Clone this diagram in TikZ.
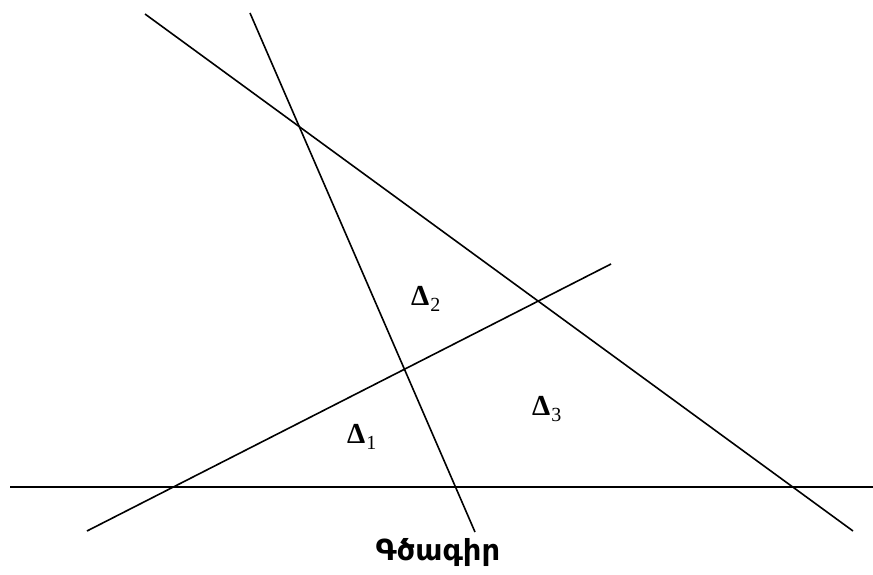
\documentclass[tikz,border=0pt]{standalone}
\usepackage{fontspec}
\setmainfont{Liberation Serif}
\newfontfamily\armfont{DejaVu Sans}
\begin{document}
\begin{tikzpicture}[x=1pt,y=-1pt,
  ln/.style={line width=1.6pt,black},
  dl/.style={anchor=base west,inner sep=0pt,font=\fontsize{29}{30}\selectfont}]
\useasboundingbox (0,0) rectangle (873,575);
\coordinate (h1) at (10,487);
\coordinate (h2) at (873,487);
\coordinate (a1) at (145,14);
\coordinate (a2) at (853,531);
\coordinate (b1) at (250,13);
\coordinate (b2) at (475,532);
\coordinate (c1) at (87,531);
\coordinate (c2) at (611,264);
\draw[ln] (h1) -- (h2);
\draw[ln] (a1) -- (a2);
\draw[ln] (b1) -- (b2);
\draw[ln] (c1) -- (c2);
\node[dl] (d2) at (411,305) {{\bfseries Δ}\kern1pt\raisebox{-6pt}{\fontsize{20}{20}\selectfont 2}};
\node[dl] (d3) at (532,415) {{\bfseries Δ}\kern1pt\raisebox{-6pt}{\fontsize{20}{20}\selectfont 3}};
\node[dl] (d1) at (347,443) {{\bfseries Δ}\kern1pt\raisebox{-6pt}{\fontsize{20}{20}\selectfont 1}};
\node[inner sep=0pt,font=\armfont\bfseries\fontsize{29}{30}\selectfont] (title) at (438,552) {Գծագիր};
\end{tikzpicture}
\end{document}
